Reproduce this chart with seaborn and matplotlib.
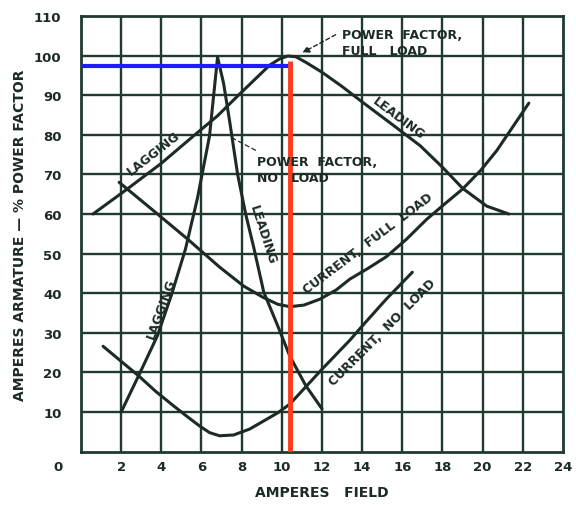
import numpy as np
import seaborn as sns
import matplotlib.pyplot as plt

sns.set_style("white")
plt.rcParams['font.family'] = ['DejaVu Sans']
plt.rcParams['font.weight'] = 'bold'

# curve data (field amperes, armature amperes / % power factor)
pf_full_x = [0.6, 2.3, 4.0, 5.6, 6.8, 7.8, 8.7, 9.4, 9.9, 10.3, 10.7, 11.2, 12.0, 13.0, 14.0, 15.5, 16.9, 18.0, 19.0, 20.2, 21.3]
pf_full_y = [60.0, 66.3, 72.8, 79.7, 84.8, 89.8, 94.2, 97.6, 99.2, 99.9, 99.7, 98.3, 95.8, 92.2, 88.3, 82.6, 77.2, 71.8, 66.5, 62.0, 60.0]

pf_noload_x = [2.0, 2.9, 3.8, 4.5, 5.2, 5.8, 6.4, 6.8, 7.1, 7.4, 7.8, 8.2, 8.6, 9.1, 9.8, 10.4, 11.2, 12.0]
pf_noload_y = [10.0, 19.5, 29.2, 39.5, 51.1, 64.0, 79.7, 99.6, 93.0, 83.5, 70.0, 60.0, 51.6, 40.3, 31.7, 24.1, 16.6, 10.8]

cur_full_x = [1.9, 3.5, 5.3, 6.9, 8.1, 9.05, 9.8, 10.4, 11.1, 11.9, 12.7, 13.4, 14.3, 15.2, 16.2, 17.2, 18.1, 19.0, 19.9, 20.7, 21.5, 22.3]
cur_full_y = [68.0, 61.3, 53.7, 46.6, 41.8, 39.0, 37.2, 36.6, 37.0, 38.5, 40.8, 43.6, 46.3, 49.2, 53.6, 58.6, 62.5, 66.3, 71.0, 76.0, 82.0, 88.0]

cur_noload_x = [1.1, 2.0, 2.9, 3.7, 4.5, 5.3, 5.9, 6.4, 6.9, 7.6, 8.4, 9.05, 9.8, 10.4, 11.2, 12.0, 12.7, 13.4, 14.0, 15.2, 16.5]
cur_noload_y = [26.6, 22.8, 19.0, 15.3, 12.0, 8.8, 6.5, 4.8, 4.0, 4.2, 5.7, 7.6, 9.8, 12.0, 16.4, 20.8, 24.5, 28.2, 31.7, 38.5, 45.3]

# marked operating point
op_field = 10.4
op_pf = 97.5

x_ticks = [2, 4, 6, 8, 10, 12, 14, 16, 18, 20, 22, 24]
y_ticks = [10, 20, 30, 40, 50, 60, 70, 80, 90, 100, 110]

ink = '#1c2b23'
grid_col = '#1f3b2e'

fig = plt.figure(figsize=(5.76, 5.06), dpi=100)
ax = fig.add_axes([0.1406, 0.1055, 0.8368, 0.8609])

for gx in range(2, 24, 2):
    ax.axvline(gx, color=grid_col, lw=1.7, zorder=1)
for gy in range(10, 110, 10):
    ax.axhline(gy, color=grid_col, lw=1.7, zorder=1)

for xs, ys in [(pf_full_x, pf_full_y), (pf_noload_x, pf_noload_y),
               (cur_full_x, cur_full_y), (cur_noload_x, cur_noload_y)]:
    sns.lineplot(x=xs, y=ys, sort=False, estimator=None, color=ink, lw=2.2, ax=ax, zorder=3)

# operating point lines
ax.plot([0, op_field + 0.15], [op_pf, op_pf], color='#1c1cff', lw=3, zorder=4, solid_capstyle='butt')
ax.plot([op_field, op_field], [0, op_pf + 1.2], color='#ff3b1c', lw=3.5, zorder=5, solid_capstyle='butt')

ax.set_xlim(0, 24)
ax.set_ylim(0, 110)
ax.set_xticks(x_ticks)
ax.set_yticks(y_ticks)
ax.set_xticklabels([str(t) for t in x_ticks], fontsize=9.5, fontweight='bold', color=ink)
ax.set_yticklabels([str(t) for t in y_ticks], fontsize=9.5, fontweight='bold', color=ink)
ax.tick_params(length=0, pad=6)
ax.tick_params(axis='y', pad=14)
ax.text(-1.15, -0.034, '0', transform=ax.get_xaxis_transform(), ha='center', va='center',
        fontsize=9.5, fontweight='bold', color=ink)
for s in ax.spines.values():
    s.set_color(grid_col)
    s.set_linewidth(2)

ax.set_xlabel('AMPERES   FIELD', fontsize=10, fontweight='bold', color=ink, labelpad=9)
ax.set_ylabel('AMPERES ARMATURE — % POWER FACTOR', fontsize=10, fontweight='bold', color=ink, labelpad=5)

txt = dict(fontsize=9, fontweight='bold', color=ink, zorder=6)
ax.text(13.0, 105.3, 'POWER  FACTOR,', ha='left', va='center', **txt)
ax.text(13.0, 101.3, 'FULL   LOAD', ha='left', va='center', **txt)
ax.annotate('', xy=(10.9, 100.4), xytext=(12.8, 105.6),
            arrowprops=dict(arrowstyle='-|>', color=ink, lw=1, ls=(0, (3, 2))), zorder=6)

ax.text(8.75, 73.2, 'POWER  FACTOR,', ha='left', va='center', **txt)
ax.text(8.75, 69.2, 'NO   LOAD', ha='left', va='center', **txt)
ax.plot([7.5, 8.8], [79.3, 75.8], color=ink, lw=0.9, ls=(0, (4, 2)), zorder=6)

ax.text(3.6, 75.5, 'LAGGING', rotation=38, ha='center', va='center', **txt)
ax.text(15.8, 84.3, 'LEADING', rotation=-37, ha='center', va='center', **txt)
ax.text(9.05, 55.0, 'LEADING', rotation=-72, ha='center', va='center', **txt)
ax.text(4.0, 36.2, 'LAGGING', rotation=70, ha='center', va='center', **txt)
ax.text(14.3, 52.8, 'CURRENT,  FULL  LOAD', rotation=37, ha='center', va='center', **txt)
ax.text(15.0, 30.3, 'CURRENT,  NO  LOAD', rotation=45, ha='center', va='center', **txt)

fig.savefig('out.png', dpi=100)
